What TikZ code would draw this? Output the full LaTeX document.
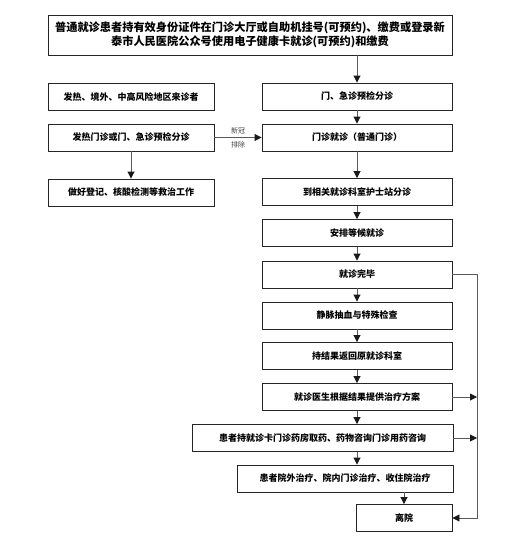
\documentclass[tikz,border=0pt]{standalone}
\usepackage{fontspec}
\setmainfont{Noto Sans CJK SC}
\usetikzlibrary{positioning, arrows.meta, calc}

\begin{document}
\begin{tikzpicture}[
    x=1pt, y=-1pt,
    box/.style={rectangle, draw=black!85, line width=0.9pt, minimum height=27pt, minimum width=#1, inner sep=1pt, font=\fontsize{9}{11}\selectfont\bfseries, align=center, fill=white},
    box/.default=190pt,
    arrow/.style={-{Triangle[length=7pt, width=7pt, color=black!90]}, line width=0.9pt, draw=black!65},
    label/.style={font=\fontsize{7}{8}\selectfont, text=black!75},
]
\useasboundingbox (0,0) rectangle (524,543);
% top box
\node[box=404pt, minimum height=40pt, font=\fontsize{11.2}{14}\selectfont\bfseries] (top) at (250, 35) {普通就诊患者持有效身份证件在门诊大厅或自助机挂号(可预约)、缴费或登录新\\泰市人民医院公众号使用电子健康卡就诊(可预约)和缴费};

% left column
\node[box=166pt] (l1) at (131, 97) {发热、境外、中高风险地区来诊者};
\node[box=166pt] (l2) at (131, 137.5) {发热门诊或门、急诊预检分诊};
\node[box=166pt] (l3) at (131, 192.5) {做好登记、核酸检测等救治工作};

% main column
\node[box] (m1) at (357, 96.5) {门、急诊预检分诊};
\node[box] (m2) at (357, 137.5) {门诊就诊（普通门诊）};
\node[box] (m3) at (357, 192) {到相关就诊科室护士站分诊};
\node[box] (m4) at (357, 233) {安排等候就诊};
\node[box] (m5) at (357, 274.5) {就诊完毕};
\node[box] (m6) at (357, 315.5) {静脉抽血与特殊检查};
\node[box] (m7) at (357, 356) {持结果返回原就诊科室};
\node[box] (m8) at (357, 397) {就诊医生根据结果提供治疗方案};
\node[box=261pt] (m9) at (322.5, 438) {患者持就诊卡门诊药房取药、药物咨询门诊用药咨询};
\node[box=216pt] (m10) at (345, 478.5) {患者院外治疗、院内门诊治疗、收住院治疗};
\node[box=96pt] (m11) at (404, 518) {离院};
\coordinate (rt) at (477, 274.5);

\draw[arrow] (top.south -| m1.north) -- (m1.north);
\draw[arrow] (m1) -- (m2); \draw[arrow] (m2) -- (m3); \draw[arrow] (m3) -- (m4); \draw[arrow] (m4) -- (m5);
\draw[arrow] (m5) -- (m6); \draw[arrow] (m6) -- (m7); \draw[arrow] (m7) -- (m8);
\draw[arrow] (m8.south) -- (m8.south |- m9.north);
\draw[arrow] (m9.south -| m8.south) -- (m10.north -| m8.south);
\draw[arrow] (m10.south -| m11.north) -- (m11.north);
\draw[arrow] (l2) -- (l3);
\draw[arrow] (l2) -- node[label, above] {新冠} node[label, below] {排除} (m2);

% right return line
\draw[arrow] (m5.east) -- (rt) |- (m11.east);
\draw[arrow] (m8.east) -- (m8.east -| rt);
\draw[arrow] (m9.east) -- (m9.east -| rt);
\end{tikzpicture}
\end{document}
